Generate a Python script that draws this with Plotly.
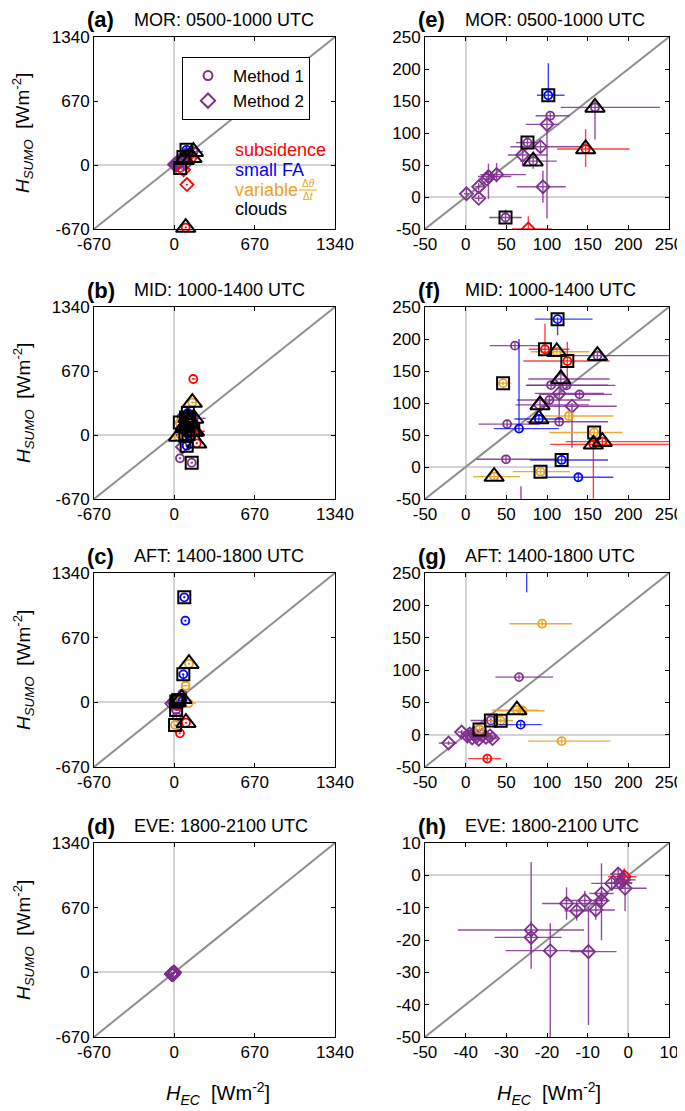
import pandas as pd
import plotly.graph_objects as go
from plotly.subplots import make_subplots

cols = ['H_EC', 'H_SUMO', 'ec_lo', 'ec_hi', 'sumo_lo', 'sumo_hi', 'flag', 'method', 'mark']
# flag: n = none, s = subsidence, f = small FA, v = variable dtheta/dt
# mark: b = square, t = triangle, '' = nothing

mor = [
    (101.6, 159, 14, 20, 8, 50, 'f', 1, 'b'),
    (159, 140, 42, 80, 50, 10, 'n', 1, 't'),
    (104, 127, 18, 24, 5, 5, 'n', 1, ''),
    (100, 113.5, 26, 15, 147, 10, 'n', 2, ''),
    (76, 85, 14, 14, 8, 8, 'n', 1, 'b'),
    (92, 78.6, 37, 50, 10, 10, 'n', 2, ''),
    (70, 65.6, 18, 30, 18, 8, 'n', 2, ''),
    (83, 56, 16, 29, 12, 10, 'n', 1, 't'),
    (147.5, 75, 35, 54, 28, 31, 's', 1, 't'),
    (28, 32, 13, 28, 35, 20, 'n', 2, ''),
    (26, 28, 10, 10, 5, 5, 'n', 2, ''),
    (38, 35, 20, 36, 12, 18, 'n', 2, ''),
    (16, 16, 5, 8, 6, 6, 'n', 2, ''),
    (16, -2, 5, 5, 5, 5, 'n', 2, ''),
    (1, 5, 3, 3, 8, 10, 'n', 2, ''),
    (95, 16, 32, 28, 25, 25, 'n', 2, ''),
    (49, -32, 20, 20, 10, 12, 'n', 1, 'b'),
    (77, -50, 20, 29, 10, 20, 's', 2, ''),
    (105, -205, 10, 10, 10, 10, 's', 2, ''),
    (95, -655, 10, 10, 10, 10, 's', 1, 't'),
]

mid = [
    (113, 231, 28, 43, 25, 3, 'f', 1, 'b'),
    (60.6, 189.6, 31, 31, 5, 5, 'n', 1, ''),
    (97.5, 184, 20, 30, 5, 40, 's', 1, 'b'),
    (112, 180, 32, 40, 5, 5, 'v', 1, 't'),
    (125, 165.6, 54, 52, 30, 30, 's', 1, 'b'),
    (162, 174, 54, 100, 8, 8, 'n', 1, 't'),
    (46, 131, 6, 10, 3, 3, 'v', 1, 'b'),
    (117, 137.5, 40, 60, 20, 20, 'n', 2, 't'),
    (105, 128, 30, 70, 5, 5, 'n', 1, ''),
    (124, 127.6, 50, 60, 5, 5, 'n', 1, ''),
    (115, 115, 30, 55, 40, 15, 'n', 2, ''),
    (140, 113.5, 50, 40, 5, 5, 'n', 1, ''),
    (103, 104.7, 40, 50, 5, 5, 'n', 1, ''),
    (91.4, 97, 30, 60, 10, 10, 'n', 2, 't'),
    (130.7, 95, 40, 55, 65, 5, 'n', 2, ''),
    (127, 79.7, 30, 55, 5, 5, 'v', 1, ''),
    (90, 75, 30, 30, 5, 5, 'f', 1, 't'),
    (115, 70.8, 40, 60, 5, 5, 'n', 1, ''),
    (51, 67, 35, 40, 5, 5, 'n', 1, ''),
    (65.6, 60, 31, 49, 5, 140, 'f', 1, ''),
    (158, 54, 55, 35, 5, 5, 'v', 1, 'b'),
    (157, 35.4, 53, 95, 85, 5, 's', 1, 't'),
    (168, 39.6, 45, 85, 10, 5, 's', 1, 't'),
    (49.6, 12, 36, 60, 5, 5, 'n', 1, ''),
    (118, 11, 39, 57, 5, 5, 'f', 1, 'b'),
    (35, -15, 26, 32, 5, 5, 'v', 1, 't'),
    (92, -7.3, 34, 36, 5, 5, 'v', 1, 'b'),
    (138.5, -16, 45, 43, 5, 5, 'f', 1, ''),
    (158, 586, 10, 20, 10, 10, 's', 1, ''),
    (150, 340, 10, 30, 10, 10, 'v', 1, 't'),
    (47, -244, 10, 10, 10, 10, 'n', 1, ''),
    (145, -290, 10, 10, 10, 10, 'n', 1, 'b'),
    (103, -112, 10, 10, 10, 10, 'f', 1, 'b'),
    (68, -125, 5, 5, 10, 95, 'n', 2, ''),
    (187, -87, 10, 10, 10, 10, 's', 1, 't'),
]

aft = [
    (75, 290, 10, 10, 70, 10, 'f', 1, 'b'),
    (83, 1088, 10, 10, 10, 10, 'f', 1, 'b'),
    (92, 846, 10, 10, 10, 10, 'f', 1, ''),
    (122, 400, 10, 10, 10, 10, 'v', 1, 't'),
    (94, 171.6, 40, 37, 4, 4, 'v', 1, ''),
    (65.6, 89, 29, 42, 4, 4, 'n', 1, ''),
    (63, 38, 31, 27, 4, 4, 'v', 1, 't'),
    (70, 37, 32, 27, 4, 4, 'v', 1, ''),
    (67.6, 15.5, 27, 26, 4, 4, 'f', 1, ''),
    (43, 21.6, 15, 15, 4, 4, 'v', 1, 'b'),
    (31, 22, 25, 20, 4, 4, 'n', 1, 'b'),
    (17, 8, 8, 8, 4, 4, 'v', 1, 'b'),
    (118, -10, 41, 60, 4, 4, 'v', 1, ''),
    (26.6, -37, 24, 17, 5, 5, 's', 1, ''),
    (-21, -13, 12, 10, 3, 3, 'n', 2, ''),
    (-5, 4, 5, 5, 3, 3, 'n', 2, ''),
    (2, -2, 6, 6, 4, 4, 'n', 2, ''),
    (5, 1, 5, 5, 3, 3, 'n', 2, ''),
    (8, -5, 5, 5, 3, 3, 'n', 2, ''),
    (10, 2, 6, 6, 3, 3, 'n', 2, ''),
    (13, -3, 5, 5, 3, 3, 'n', 2, ''),
    (16, -7, 5, 5, 3, 3, 'n', 2, ''),
    (20, -1, 6, 6, 3, 3, 'n', 2, ''),
    (25, -4, 6, 6, 3, 3, 'n', 2, ''),
    (30, -2, 6, 6, 3, 3, 'n', 2, ''),
    (33, -6, 6, 6, 3, 3, 'n', 2, ''),
    (97, -211, 10, 10, 10, 10, 's', 1, 't'),
    (6, -235, 10, 10, 10, 10, 'v', 1, 'b'),
    (47, -321, 10, 10, 10, 10, 's', 1, ''),
    (15, -80, 5, 5, 5, 5, 'n', 1, 'b'),
    (20, -150, 5, 5, 5, 5, 'n', 1, ''),
]

eve = [
    (-23.9, -16.9, 18, 13, 12, 21, 'n', 2, ''),
    (-23.9, -19.2, 9, 7.5, 5, 5, 'n', 2, ''),
    (-19.2, -23.3, 11, 11, 27, 8.5, 'n', 2, ''),
    (-9.8, -23.6, 4.5, 6.9, 22.7, 14, 'n', 2, ''),
    (-15.2, -8.7, 6, 9, 5, 5, 'n', 2, ''),
    (-12.7, -11, 3, 3, 3, 3, 'n', 2, ''),
    (-10.7, -7.8, 5, 5, 3, 3, 'n', 2, ''),
    (-8, -10.7, 5.5, 4.7, 3, 3, 'n', 2, ''),
    (-6.6, -5.6, 3, 3, 14.5, 9.3, 'n', 2, ''),
    (-6.6, -7.8, 2, 2, 3, 3, 'n', 2, ''),
    (-4.1, -2.5, 5, 5, 2, 2, 'n', 2, ''),
    (-2.5, 0.4, 2, 2, 2, 2, 'n', 2, ''),
    (-2, -2.3, 3, 3, 2, 2, 'n', 2, ''),
    (-1.2, -1.4, 2, 3, 2, 2, 'n', 2, ''),
    (-0.8, -4, 3, 5.3, 7, 2, 'n', 2, ''),
    (-1, -0.4, 4, 3, 1.5, 2.5, 's', 2, ''),
]

periods = ['MOR: 0500-1000 UTC', 'MID: 1000-1400 UTC', 'AFT: 1400-1800 UTC', 'EVE: 1800-2100 UTC']
letters_left = ['(a)', '(b)', '(c)', '(d)']
letters_right = ['(e)', '(f)', '(g)', '(h)']

colors = {'n': '#7E2F8E', 'v': '#EBA21E', 'f': '#0000FF', 's': '#FF0000'}
err_colors = {'n': 'rgba(126,47,142,0.85)', 'v': 'rgba(235,162,30,0.9)',
              'f': 'rgba(0,0,255,0.75)', 's': 'rgba(255,0,0,0.75)'}
FONT = 'Liberation Sans, Arial, sans-serif'

# the page body adds an 8px offset, so the figure is 8px smaller than the window
OFF = 8
W, H = 685 - OFF, 1111 - OFF
col_px = [(94, 335), (425, 669)]
row_px = [(37, 229), (307, 499), (573, 767), (843, 1037)]


def xp(px):
    return (px - OFF) / W


def yp(py):
    return 1 - (py - OFF) / H


fig = make_subplots(rows=4, cols=2)


def add_panel(df, row, col, lim, clip, order):
    fig.add_trace(go.Scatter(x=lim, y=lim, mode='lines', line=dict(color='#8f8f8f', width=2),
                             showlegend=False, hoverinfo='skip'), row=row, col=col)
    for f in order:
        for m in [1, 2]:
            sub = df[(df.flag == f) & (df.method == m)]
            if len(sub) == 0:
                continue
            fig.add_trace(go.Scatter(
                x=sub.H_EC, y=sub.H_SUMO, mode='markers', cliponaxis=clip, showlegend=False,
                marker=dict(symbol='circle-open' if m == 1 else 'diamond-open',
                            size=8 if m == 1 else 10, color=colors[f], line=dict(width=1.8)),
                error_x=dict(type='data', symmetric=False, array=sub.ec_hi, arrayminus=sub.ec_lo,
                             color=err_colors[f], thickness=1.4, width=0),
                error_y=dict(type='data', symmetric=False, array=sub.sumo_hi, arrayminus=sub.sumo_lo,
                             color=err_colors[f], thickness=1.4, width=0),
            ), row=row, col=col)
    for mk, sym, sz in [('b', 'square-open', 12), ('t', 'triangle-up-open', 17)]:
        sub = df[df.mark == mk]
        fig.add_trace(go.Scatter(x=sub.H_EC, y=sub.H_SUMO, mode='markers', cliponaxis=clip,
                                 showlegend=False,
                                 marker=dict(symbol=sym, size=sz, color='black', line=dict(width=2))),
                      row=row, col=col)


for i, data in enumerate([mor, mid, aft, eve]):
    df = pd.DataFrame(data, columns=cols)
    order = ['n', 'v', 'f', 's'] if i < 3 else ['s', 'v', 'f', 'n']
    add_panel(df, i + 1, 1, [-670, 1340], False, order)
    if i < 3:
        add_panel(df, i + 1, 2, [-50, 250], True, order)
    else:
        add_panel(df, i + 1, 2, [-50, 10], True, order)

# legend entries
fig.add_trace(go.Scatter(x=[None], y=[None], mode='markers', name='Method 1',
                         marker=dict(symbol='circle-open', size=9, color='#7E2F8E', line=dict(width=2))),
              row=1, col=1)
fig.add_trace(go.Scatter(x=[None], y=[None], mode='markers', name='Method 2',
                         marker=dict(symbol='diamond-open', size=11, color='#7E2F8E', line=dict(width=2))),
              row=1, col=1)

axis_style = dict(showline=True, linecolor='black', linewidth=1, mirror='ticks', ticks='inside',
                  ticklen=4, tickcolor='black', showgrid=False, zeroline=True,
                  zerolinecolor='#d4d4d4', zerolinewidth=1.5, automargin=False,
                  tickfont=dict(family=FONT, size=17, color='black'))

for r in range(4):
    for c in range(2):
        n = r * 2 + c + 1
        xa = 'xaxis' if n == 1 else 'xaxis%d' % n
        ya = 'yaxis' if n == 1 else 'yaxis%d' % n
        x0, x1 = col_px[c]
        y0, y1 = row_px[r]
        if c == 0:
            rng = [-670, 1340]
            tv = [-670, 0, 670, 1340]
        elif r < 3:
            rng = [-50, 250]
            tv = list(range(-50, 251, 50))
        else:
            rng = [-50, 10]
            tv = list(range(-50, 11, 10))
        tt = [str(v) for v in tv]
        fig.layout[xa].update(domain=[xp(x0), xp(x1)], range=rng, tickvals=tv, ticktext=tt, **axis_style)
        fig.layout[ya].update(domain=[yp(y1), yp(y0)], range=rng, tickvals=tv, ticktext=tt, **axis_style)

ann = []
for r in range(4):
    top = row_px[r][0]
    yc = yp(top - 17)
    ann.append(dict(x=xp(85), y=yc, text='<b>%s</b>' % letters_left[r], font=dict(size=22)))
    ann.append(dict(x=xp(132), y=yc, text=periods[r], font=dict(size=18)))
    ann.append(dict(x=xp(416), y=yc, text='<b>%s</b>' % letters_right[r], font=dict(size=22)))
    ann.append(dict(x=xp(463), y=yc, text=periods[r], font=dict(size=18)))
    ymid = yp((row_px[r][0] + row_px[r][1]) / 2)
    ann.append(dict(x=xp(23), y=ymid, xanchor='center', textangle=-90,
                    text='<i>H</i><sub><i>SUMO</i></sub>  [Wm<sup>-2</sup>]', font=dict(size=19)))

for xc in [218, 549]:
    ann.append(dict(x=xp(xc), y=yp(1093), xanchor='center',
                    text='<i>H</i><sub><i>EC</i></sub>  [Wm<sup>-2</sup>]', font=dict(size=20)))

ann.append(dict(x=xp(233), y=yp(150), text='subsidence', font=dict(size=18, color='#FF0000')))
ann.append(dict(x=xp(233), y=yp(170), text='small FA', font=dict(size=18, color='#0000FF')))
ann.append(dict(x=xp(233), y=yp(190), text='variable', font=dict(size=18, color='#EBA21E')))
ann.append(dict(x=xp(308), y=yp(183), xanchor='center', text='Δ<i>θ</i>', font=dict(size=10, color='#EBA21E')))
ann.append(dict(x=xp(308), y=yp(197), xanchor='center', text='Δ<i>t</i>', font=dict(size=10, color='#EBA21E')))
ann.append(dict(x=xp(233), y=yp(209), text='clouds', font=dict(size=18, color='black')))

for a in ann:
    a.setdefault('xanchor', 'left')
    a.update(xref='paper', yref='paper', yanchor='middle', showarrow=False)
    a['font'].setdefault('color', 'black')
    a['font']['family'] = FONT

fig.update_layout(
    width=W, height=H, margin=dict(l=0, r=0, t=0, b=0, autoexpand=False),
    plot_bgcolor='white', paper_bgcolor='white',
    annotations=ann,
    shapes=[dict(type='line', xref='paper', yref='paper', x0=xp(299), x1=xp(317),
                 y0=yp(190), y1=yp(190), line=dict(color='#EBA21E', width=1))],
    legend=dict(x=xp(182), y=yp(57), xanchor='left', yanchor='top', bgcolor='white',
                bordercolor='black', borderwidth=1, font=dict(family=FONT, size=17, color='black'),
                tracegroupgap=2, itemwidth=40),
)

fig.write_html("out.html")
